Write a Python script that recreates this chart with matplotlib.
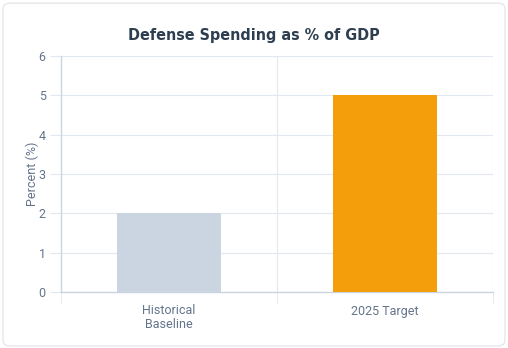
import matplotlib
matplotlib.use('Agg')
import matplotlib.pyplot as plt
from matplotlib.patches import FancyBboxPatch

# data
categories = ['Historical\nBaseline', '2025 Target']
values = [2, 5]
bar_colors = ['#cbd5e1', '#f59e0b']
y_ticks = [0, 1, 2, 3, 4, 5, 6]

plt.rcParams['font.family'] = ['Roboto', 'DejaVu Sans']

fig = plt.figure(figsize=(5.08, 3.48), dpi=100)
fig.patch.set_facecolor('white')

# card outline behind everything
card = FancyBboxPatch((0.006, 0.006), 0.988, 0.985,
                      boxstyle='round,pad=0,rounding_size=0.015',
                      transform=fig.transFigure, facecolor='white',
                      edgecolor='#e5e7eb', linewidth=1.0, zorder=-10)
fig.patches.append(card)

ax = fig.add_axes([61/508, 56/348, 432/508, 236/348])
ax.set_zorder(2)
ax.set_facecolor('none')

x = list(range(len(categories)))
ax.bar(x, values, width=0.477, color=bar_colors, zorder=3)

ax.set_xlim(-0.5, 1.5)
ax.set_ylim(0, 6)
ax.set_yticks(y_ticks)
ax.set_xticks(x)
ax.set_xticklabels(categories, linespacing=1.1)

# grid lines at category boundaries
ax.set_xticks([-0.5, 0.5, 1.5], minor=True)
ax.grid(True, which='minor', axis='x', color='#e2e8f0', linewidth=0.8, zorder=0)
ax.grid(True, which='major', axis='y', color='#e2e8f0', linewidth=0.8, zorder=0)
ax.set_axisbelow(True)

for s in ['top', 'right']:
    ax.spines[s].set_visible(False)
for s in ['left', 'bottom']:
    ax.spines[s].set_color('#cbd5e1')
    ax.spines[s].set_linewidth(1.0)

ax.tick_params(axis='y', which='major', length=8, color='#e2e8f0',
               labelsize=9, labelcolor='#64748b', pad=3)
ax.tick_params(axis='x', which='major', length=0, labelsize=9,
               labelcolor='#64748b', pad=9)
ax.tick_params(axis='x', which='minor', length=8, color='#e2e8f0')

ax.set_ylabel('Percent (%)', fontsize=9, color='#64748b', labelpad=-0.5)

fig.text(0.5, 0.899, 'Defense Spending as % of GDP', ha='center', va='center',
         fontsize=11.5, fontweight='bold', color='#2c3e50',
         family='DejaVu Sans', fontstretch='condensed')

fig.savefig('out.png', dpi=100, facecolor=fig.get_facecolor())
